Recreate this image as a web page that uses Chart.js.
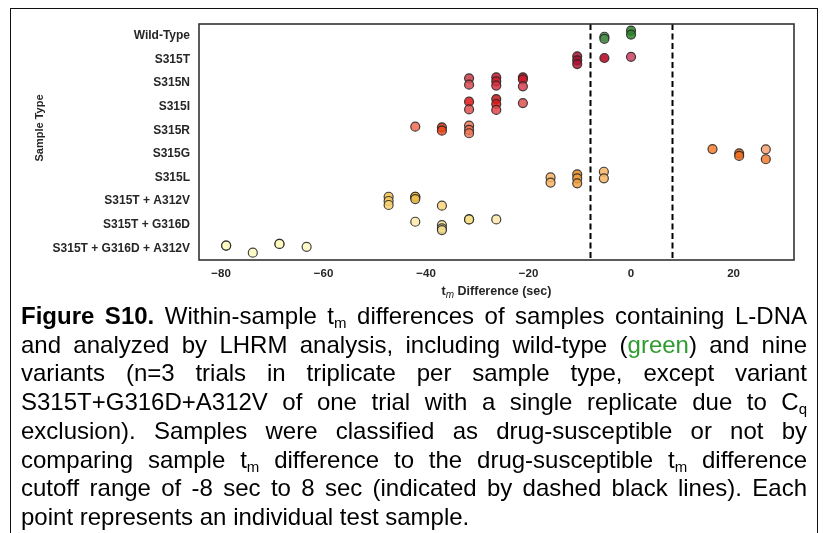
<!DOCTYPE html>
<html>
<head>
<meta charset="utf-8">
<script src="https://cdn.jsdelivr.net/npm/chart.js@4.4.1/dist/chart.umd.min.js"></script>
<style>
  html, body { margin: 0; padding: 0; background: #fff; }
  body { width: 823px; height: 533px; position: relative; overflow: hidden; font-family: "Liberation Sans", Arial, sans-serif; }
  #frame { position: absolute; left: 10px; top: 8px; width: 806px; height: 560px; border: 1.5px solid #111; }
  #chart { position: absolute; left: 0; top: 0; }
  #caption { position: absolute; left: 21px; top: 302px; width: 786px; font-size: 24px; line-height: 28.7px; color: #000; }
  #caption div { text-align: justify; text-align-last: justify; white-space: nowrap; }
  #caption div.last { text-align-last: left; }
  #caption sub { font-size: 15px; line-height: 0; vertical-align: -4px; }
  #caption .green { color: #2e9b2e; }
</style>
</head>
<body>
<div id="frame"></div>
<canvas id="chart" width="823" height="305"></canvas>
<div id="caption">
  <div><b>Figure S10.</b> Within-sample t<sub>m</sub> differences of samples containing L-DNA</div>
  <div>and analyzed by LHRM analysis, including wild-type (<span class="green">green</span>) and nine</div>
  <div>variants (n=3 trials in triplicate per sample type, except variant</div>
  <div>S315T+G316D+A312V of one trial with a single replicate due to C<sub>q</sub></div>
  <div>exclusion). Samples were classified as drug-susceptible or not by</div>
  <div>comparing sample t<sub>m</sub> difference to the drug-susceptible t<sub>m</sub> difference</div>
  <div>cutoff range of -8 sec to 8 sec (indicated by dashed black lines). Each</div>
  <div class="last">point represents an individual test sample.</div>
</div>
<script>
// categories, top to bottom
const categories = ['Wild-Type', 'S315T', 'S315N', 'S315I', 'S315R', 'S315G', 'S315L',
  'S315T + A312V', 'S315T + G316D', 'S315T + G316D + A312V'];

// tm difference (sec) of each plotted sample, per category
const tmDiffs = [
  [0, 0, -5.2, -5.2],
  [-10.5, -10.5, -10.5, -5.2, 0],
  [-31.6, -31.6, -26.3, -26.3, -26.3, -21.1, -21.1, -21.1],
  [-31.6, -31.6, -26.3, -26.3, -26.3, -21.1],
  [-42.1, -36.9, -36.9, -31.6, -31.6, -31.6],
  [15.9, 21.1, 21.1, 26.3, 26.3],
  [-15.7, -15.7, -10.5, -10.5, -10.5, -5.3, -5.3],
  [-47.3, -47.3, -47.3, -42.1, -42.1, -42.1, -36.9],
  [-42.1, -36.9, -36.9, -36.9, -31.6, -31.6, -26.3],
  [-79.0, -79.0, -73.8, -68.6, -68.6, -63.3]
];

// strip-plot jitter (fraction of a category row)
const jitters = [
  [-0.22, -0.05, 0.04, 0.13],
  [-0.13, 0.04, 0.2, -0.06, -0.11],
  [-0.2, 0.07, -0.24, -0.07, 0.11, -0.24, -0.15, 0.14],
  [-0.21, 0.12, -0.32, -0.11, 0.14, -0.15],
  [-0.15, -0.12, 0.02, -0.19, -0.01, 0.13],
  [-0.2, -0.02, 0.09, -0.19, 0.23],
  [0.0, 0.22, -0.13, 0.04, 0.25, -0.24, 0.04],
  [-0.18, 0.0, 0.17, -0.18, -0.18, -0.08, 0.2],
  [-0.12, 0.02, 0.16, 0.23, -0.22, -0.22, -0.22],
  [-0.11, -0.11, 0.19, -0.18, -0.18, -0.06]
];

const xTicks = [-80, -60, -40, -20, 0, 20];
const cutoffs = [-8, 8];

// point fill colours, one per sample
const pointColors = [
  ['#2a852a', '#2a852a', '#4a8f4a', '#4a8f4a'],
  ['#a8102e', '#a8102e', '#b01030', '#b5001e', '#cc4060'],
  ['#c83a48', '#d84850', '#c81828', '#d02030', '#d83040', '#b81020', '#cc1a2a', '#d84050'],
  ['#e01414', '#e05050', '#c01818', '#e01818', '#e04848', '#e05050'],
  ['#f06a50', '#c83010', '#f04a20', '#f07858', '#f07050', '#f07858'],
  ['#f47c2c', '#e06010', '#f07020', '#f8a070', '#f27a30'],
  ['#f9b463', '#f9b463', '#e88a20', '#f0a040', '#f0a040', '#f9b463', '#f9b463'],
  ['#f0c050', '#f4c860', '#f8d070', '#e8b840', '#e8b840', '#f0c050', '#fad47a'],
  ['#fde9a6', '#f8e090', '#fde9a6', '#f0d888', '#f8e088', '#f8e088', '#fde9a6'],
  ['#fffac0', '#fffac0', '#fffac0', '#fffac0', '#fffac0', '#fffac0']
];

function withAlpha(hex, a) {
  const n = parseInt(hex.slice(1), 16);
  return 'rgba(' + (n >> 16) + ',' + ((n >> 8) & 255) + ',' + (n & 255) + ',' + a + ')';
}

const FONT = '"Liberation Sans", Arial, sans-serif';

const datasets = categories.map((name, i) => ({
  label: name,
  data: tmDiffs[i].map((x, j) => ({ x: x, y: i + jitters[i][j] })),
  backgroundColor: pointColors[i].map(c => withAlpha(c, 0.85)),
  borderColor: 'rgba(35,35,35,0.85)',
  borderWidth: 1.2,
  pointRadius: 4.5
}));

// frame, cutoff lines and axis titles
const extras = {
  id: 'extras',
  beforeDatasetsDraw(chart) {
    const ctx = chart.ctx;
    const area = chart.chartArea;
    const xs = chart.scales.x;
    ctx.save();
    ctx.strokeStyle = '#000';
    ctx.lineWidth = 2;
    ctx.setLineDash([6, 3.5]);
    cutoffs.forEach(v => {
      const px = Math.round(xs.getPixelForValue(v)) + 0.5;
      ctx.beginPath();
      ctx.moveTo(px, area.top);
      ctx.lineTo(px, area.bottom);
      ctx.stroke();
    });
    ctx.restore();
  },
  afterDraw(chart) {
    const ctx = chart.ctx;
    const area = chart.chartArea;
    ctx.save();
    ctx.strokeStyle = '#333';
    ctx.lineWidth = 1.6;
    ctx.strokeRect(area.left, area.top, area.right - area.left, area.bottom - area.top);

    // x title: t_m Difference (sec)
    ctx.fillStyle = '#262626';
    ctx.textBaseline = 'middle';
    ctx.textAlign = 'left';
    const bold = 'bold 12.5px ' + FONT;
    const ital = 'italic 10px ' + FONT;
    ctx.font = bold;
    const w1 = ctx.measureText('t').width;
    const w3 = ctx.measureText(' Difference (sec)').width;
    ctx.font = ital;
    const w2 = ctx.measureText('m').width;
    const x = (area.left + area.right) / 2 - (w1 + w2 + w3) / 2;
    const y = 292;
    ctx.font = bold;
    ctx.fillText('t', x, y);
    ctx.font = ital;
    ctx.fillText('m', x + w1, y + 3);
    ctx.font = bold;
    ctx.fillText(' Difference (sec)', x + w1 + w2, y);

    // y title
    ctx.font = 'bold 11px ' + FONT;
    ctx.translate(40, 128);
    ctx.rotate(-Math.PI / 2);
    ctx.textAlign = 'center';
    ctx.fillText('Sample Type', 0, 0);
    ctx.restore();
  }
};

new Chart(document.getElementById('chart'), {
  type: 'scatter',
  data: { datasets: datasets },
  options: {
    responsive: false,
    animation: false,
    layout: { padding: { top: 24, right: 29, left: 0, bottom: 0 } },
    plugins: { legend: { display: false }, tooltip: { enabled: false } },
    scales: {
      x: {
        type: 'linear',
        min: -84.3,
        max: 31.8,
        afterBuildTicks: s => { s.ticks = xTicks.map(v => ({ value: v })); },
        afterFit: s => { s.height = 45; },
        grid: { display: false, drawTicks: false },
        border: { display: false },
        ticks: {
          padding: 7,
          color: '#262626',
          font: { family: FONT, size: 11.5, weight: 'bold' },
          callback: v => String(v).replace('-', '\u2212')
        }
      },
      y: {
        type: 'linear',
        reverse: true,
        min: -0.5,
        max: 9.5,
        afterBuildTicks: s => { s.ticks = categories.map((c, i) => ({ value: i })); },
        afterFit: s => { s.width = 199; },
        grid: { display: false, drawTicks: false },
        border: { display: false },
        ticks: {
          padding: 9,
          color: '#262626',
          font: { family: FONT, size: 12, weight: 'bold' },
          callback: v => categories[v]
        }
      }
    }
  },
  plugins: [extras]
});
</script>
</body>
</html>
